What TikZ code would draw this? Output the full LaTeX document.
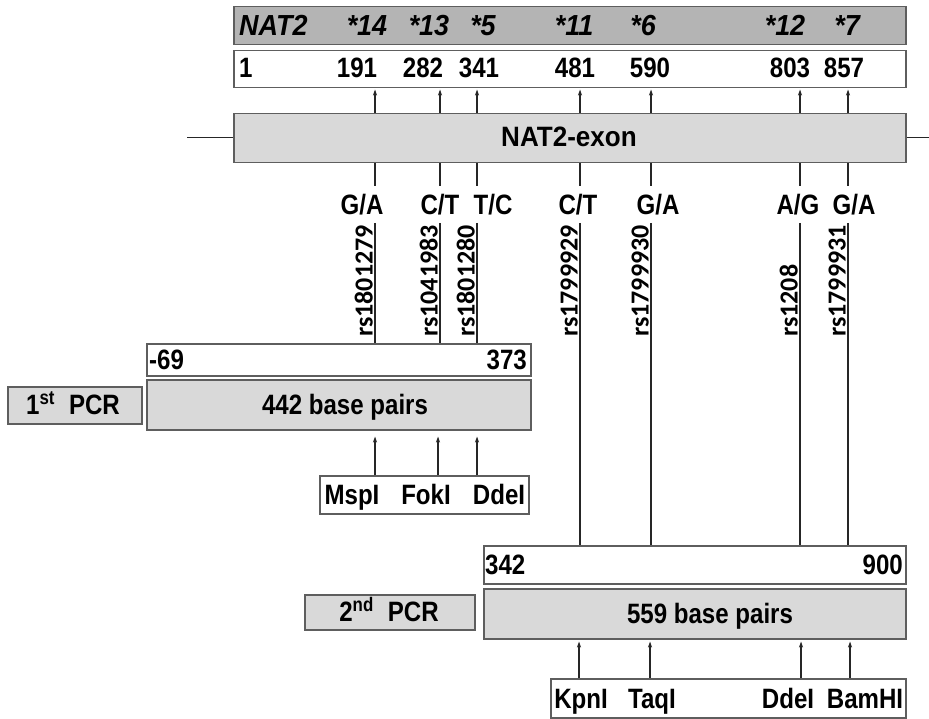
\documentclass[tikz,border=0pt]{standalone}
\usepackage{fontspec}
\setmainfont{Liberation Sans}[FakeStretch=0.86]
\newfontfamily\rsfont{Carlito}
\newfontfamily\widefont{Liberation Sans}[FakeStretch=0.93]
\usetikzlibrary{arrows.meta}
\definecolor{boxline}{HTML}{5E5E5E}
\definecolor{darkfill}{HTML}{B4B4B4}
\definecolor{lightfill}{HTML}{D9D9D9}
\begin{document}
\begin{tikzpicture}[x=1pt,y=-1pt,
  box/.style={draw=boxline, line width=1.5pt, anchor=north west, inner sep=0pt},
  lab/.style={font=\fontsize{28}{30}\selectfont\bfseries, inner sep=0pt, text height=20pt, text depth=0pt},
  starlab/.style={font=\fontsize{29}{31}\selectfont\widefont\bfseries\itshape, inner sep=0pt, text height=20.8pt, text depth=0pt},
  rslab/.style={font=\fontsize{26}{28}\selectfont\rsfont\bfseries, inner sep=0pt, rotate=90, anchor=south west},
  conn/.style={line width=1.1pt, black!85},
  arr/.style={conn, -{Stealth[length=6pt,width=4pt]}}
]
\useasboundingbox (0,0) rectangle (929,719);

% boxes
\node[box, fill=darkfill, minimum width=672pt, minimum height=38pt] (star) at (233,6) {};
\node[box, fill=white, minimum width=672pt, minimum height=37pt] (num) at (233,50) {};
\node[box, fill=lightfill, minimum width=672pt, minimum height=49pt] (exon) at (233,113) {};
\node[box, fill=white, minimum width=384pt, minimum height=32pt] (r1) at (146,343) {};
\node[box, fill=lightfill, minimum width=384pt, minimum height=50pt] (p1) at (146,379) {};
\node[box, fill=lightfill, minimum width=134pt, minimum height=37pt] (pcr1) at (7,386) {};
\node[box, fill=white, minimum width=209pt, minimum height=38pt] (enz1) at (319,475) {};
\node[box, fill=white, minimum width=422pt, minimum height=38pt] (r2) at (483,545) {};
\node[box, fill=lightfill, minimum width=422pt, minimum height=50pt] (p2) at (483,588) {};
\node[box, fill=lightfill, minimum width=170pt, minimum height=35pt] (pcr2) at (304,594) {};
\node[box, fill=white, minimum width=355pt, minimum height=39pt] (enz2) at (550,678) {};

% exon flanking line
\coordinate (lend) at (187,137.5);
\coordinate (rend) at (929,137.5);
\draw[conn] (lend) -- (lend -| exon.west);
\draw[conn] (rend -| exon.east) -- (rend);

% star row
\node[starlab, anchor=west] (tNAT) at (239,25) {NAT2};
\node[starlab] (s14) at (367,25) {*14};
\node[starlab] (s13) at (429,25) {*13};
\node[starlab] (s5) at (483,25) {*5};
\node[starlab] (s11) at (574,25) {*11};
\node[starlab] (s6) at (643,25) {*6};
\node[starlab] (s12) at (785,25) {*12};
\node[starlab] (s7) at (847,25) {*7};

% numbers row
\node[lab, anchor=west] (n1) at (239,68) {1};
\node[lab] (n191) at (357,68) {191};
\node[lab] (n282) at (423,68) {282};
\node[lab] (n341) at (479,68) {341};
\node[lab] (n481) at (575,68) {481};
\node[lab] (n590) at (650,68) {590};
\node[lab] (n803) at (790,68) {803};
\node[lab] (n857) at (844,68) {857};

\node[lab, font=\fontsize{28}{30}\selectfont\widefont\bfseries] (exlab) at (569,137) {NAT2-exon};

% arrows exon -> numbers, and stubs below exon
\foreach \x in {375,440,477,580,651,800,848}{
  \draw[arr, shorten >=1pt] (exon.north -| \x,0) -- (num.south -| \x,0);
  \coordinate (stub\x) at (\x,186);
  \draw[conn] (exon.south -| \x,0) -- (stub\x);
}

% allele labels
\node[lab] (a1) at (362,205) {G/A};
\node[lab] (a2) at (440,205) {C/T};
\node[lab] (a3) at (493,205) {T/C};
\node[lab] (a4) at (578,205) {C/T};
\node[lab] (a5) at (658,205) {G/A};
\node[lab] (a6) at (798,205) {A/G};
\node[lab] (a7) at (854,205) {G/A};

% rs lines
\foreach \x in {375,440,477}{
  \coordinate (rs\x) at (\x,223);
  \draw[conn] (rs\x) -- (r1.north -| \x,0);
}
\foreach \x in {580,651,800,848}{
  \coordinate (rs\x) at (\x,223);
  \draw[conn] (rs\x) -- (r2.north -| \x,0);
}
\node[rslab] (rsA) at (373,337) {rs1801279};
\node[rslab] (rsB) at (438,337) {rs1041983};
\node[rslab] (rsC) at (475,337) {rs1801280};
\node[rslab] (rsD) at (578,337) {rs1799929};
\node[rslab] (rsE) at (649,337) {rs1799930};
\node[rslab] (rsF) at (798,337) {rs1208};
\node[rslab] (rsG) at (846,337) {rs1799931};

% first PCR
\node[lab, anchor=west] (m69) at (149,359) {-69};
\node[lab, anchor=east] (m373) at (527,359) {373};
\node[lab] (bp1) at (345,404) {442 base pairs};
\node[lab] (pcr1t) at (73,404) {1\textsuperscript{st}\hspace{0.5em}PCR};
\node[lab] (e11) at (352,494) {MspI};
\node[lab] (e12) at (426,494) {FokI};
\node[lab] (e13) at (499,494) {DdeI};
\foreach \x in {375,438,477}{
  \draw[arr, shorten >=6pt] (enz1.north -| \x,0) -- (p1.south -| \x,0);
}

% second PCR
\node[lab, anchor=west] (m342) at (485,564) {342};
\node[lab, anchor=east] (m900) at (903,564) {900};
\node[lab] (bp2) at (710,613) {559 base pairs};
\node[lab] (pcr2t) at (389,611) {2\textsuperscript{nd}\hspace{0.5em}PCR};
\node[lab] (e21) at (581,698) {KpnI};
\node[lab] (e22) at (652,698) {TaqI};
\node[lab] (e23) at (788,698) {DdeI};
\node[lab] (e24) at (865,698) {BamHI};
\foreach \x in {579,650,801,850}{
  \draw[arr, shorten >=2pt] (enz2.north -| \x,0) -- (p2.south -| \x,0);
}
\end{tikzpicture}
\end{document}
